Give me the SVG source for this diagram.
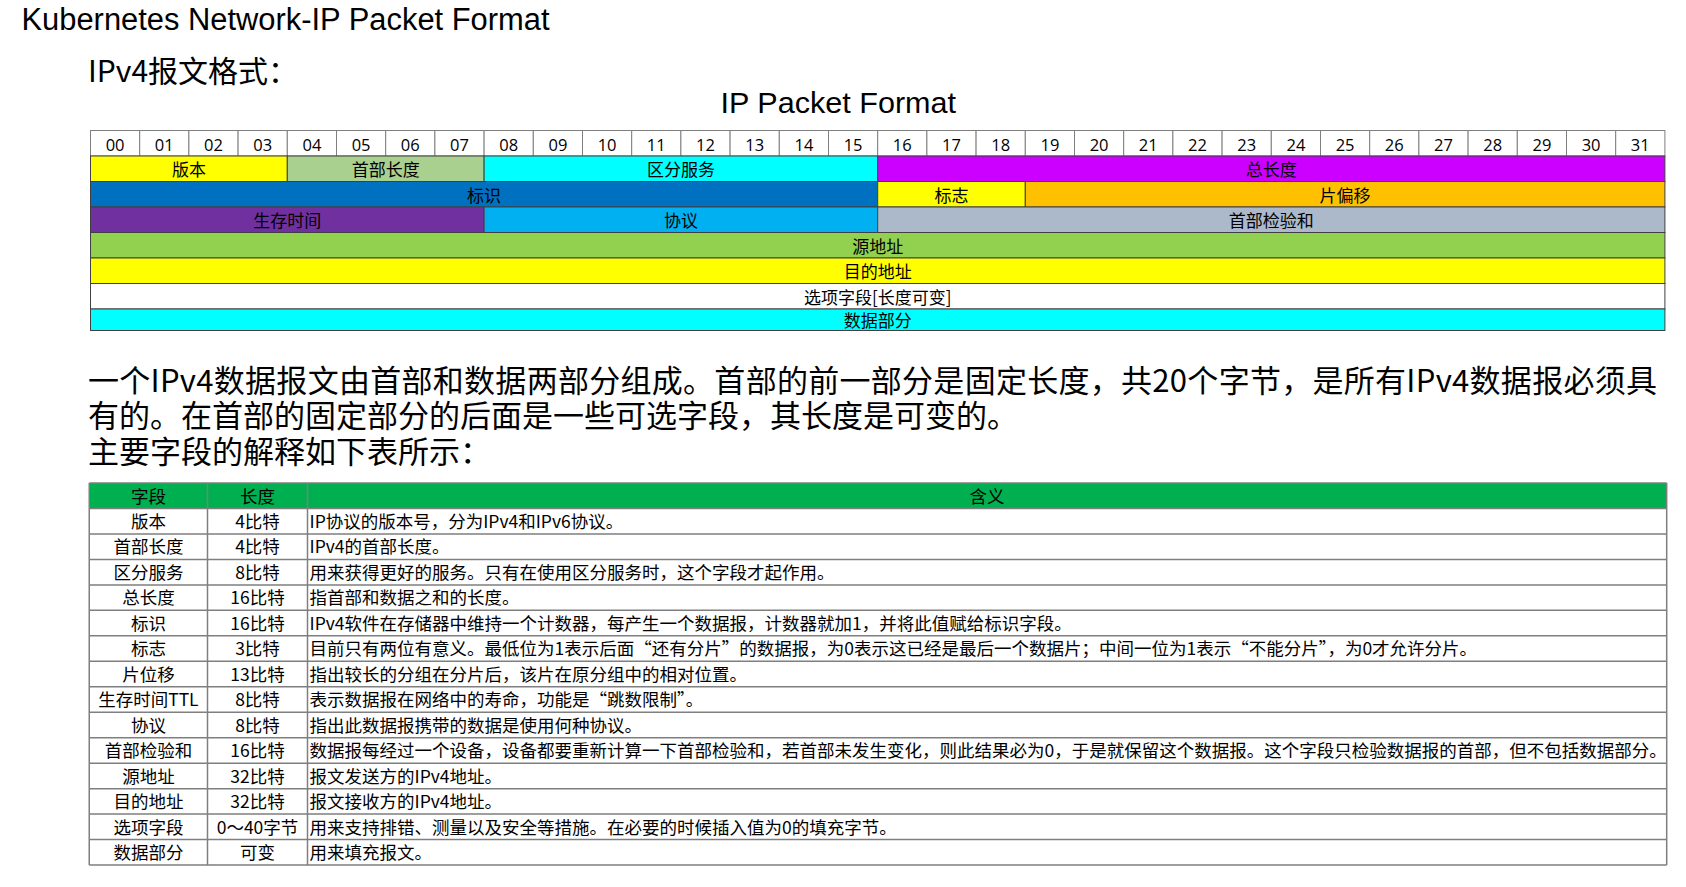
<svg xmlns="http://www.w3.org/2000/svg" width="1686" height="887" viewBox="0 0 1686 887">
<style>
.t{font-family:"Liberation Sans",Arial,sans-serif;fill:#000}
.c{font-family:"Noto Sans CJK SC","Noto Sans",sans-serif;fill:#000}
.d{font-family:"Open Sans","Noto Sans",sans-serif;font-size:16.5px;fill:#000;text-anchor:middle}
.f{font-family:"Noto Sans CJK SC",sans-serif;font-size:17px;fill:#000;text-anchor:middle}
.hc{fill:#fff;stroke:#7f7f7f;stroke-width:1}
.fc{stroke:#404040;stroke-width:1}
.tb{font-family:"Noto Sans CJK SC",sans-serif;font-size:17.5px;fill:#000}
.m{text-anchor:middle}
.gl{stroke:#7f7f7f;stroke-width:1.5;fill:none}
</style>
<rect width="1686" height="887" fill="#fff"/>
<g id="titles">
<text class="t" x="21.5" y="30" font-size="31" textLength="528" lengthAdjust="spacingAndGlyphs">Kubernetes Network-IP Packet Format</text>
<text class="c" x="88" y="82" font-size="30">IPv4报文格式：</text>
<text class="t" x="720.5" y="113" font-size="30" textLength="235.5" lengthAdjust="spacingAndGlyphs">IP Packet Format</text>
</g>
<g id="bit-header">
<rect class="hc" x="90.5" y="130.5" width="49.2" height="25.5"/><text class="d" x="115.1" y="150.5">00</text>
<rect class="hc" x="139.7" y="130.5" width="49.2" height="25.5"/><text class="d" x="164.3" y="150.5">01</text>
<rect class="hc" x="188.9" y="130.5" width="49.2" height="25.5"/><text class="d" x="213.5" y="150.5">02</text>
<rect class="hc" x="238.1" y="130.5" width="49.2" height="25.5"/><text class="d" x="262.7" y="150.5">03</text>
<rect class="hc" x="287.3" y="130.5" width="49.2" height="25.5"/><text class="d" x="311.9" y="150.5">04</text>
<rect class="hc" x="336.5" y="130.5" width="49.2" height="25.5"/><text class="d" x="361.1" y="150.5">05</text>
<rect class="hc" x="385.7" y="130.5" width="49.2" height="25.5"/><text class="d" x="410.3" y="150.5">06</text>
<rect class="hc" x="434.9" y="130.5" width="49.2" height="25.5"/><text class="d" x="459.5" y="150.5">07</text>
<rect class="hc" x="484.1" y="130.5" width="49.2" height="25.5"/><text class="d" x="508.7" y="150.5">08</text>
<rect class="hc" x="533.3" y="130.5" width="49.2" height="25.5"/><text class="d" x="557.9" y="150.5">09</text>
<rect class="hc" x="582.5" y="130.5" width="49.2" height="25.5"/><text class="d" x="607.1" y="150.5">10</text>
<rect class="hc" x="631.7" y="130.5" width="49.2" height="25.5"/><text class="d" x="656.3" y="150.5">11</text>
<rect class="hc" x="680.9" y="130.5" width="49.2" height="25.5"/><text class="d" x="705.5" y="150.5">12</text>
<rect class="hc" x="730.1" y="130.5" width="49.2" height="25.5"/><text class="d" x="754.7" y="150.5">13</text>
<rect class="hc" x="779.3" y="130.5" width="49.2" height="25.5"/><text class="d" x="803.9" y="150.5">14</text>
<rect class="hc" x="828.5" y="130.5" width="49.2" height="25.5"/><text class="d" x="853.1" y="150.5">15</text>
<rect class="hc" x="877.7" y="130.5" width="49.2" height="25.5"/><text class="d" x="902.3" y="150.5">16</text>
<rect class="hc" x="926.9" y="130.5" width="49.2" height="25.5"/><text class="d" x="951.5" y="150.5">17</text>
<rect class="hc" x="976.1" y="130.5" width="49.2" height="25.5"/><text class="d" x="1000.7" y="150.5">18</text>
<rect class="hc" x="1025.3" y="130.5" width="49.2" height="25.5"/><text class="d" x="1049.9" y="150.5">19</text>
<rect class="hc" x="1074.5" y="130.5" width="49.2" height="25.5"/><text class="d" x="1099.1" y="150.5">20</text>
<rect class="hc" x="1123.7" y="130.5" width="49.2" height="25.5"/><text class="d" x="1148.3" y="150.5">21</text>
<rect class="hc" x="1172.9" y="130.5" width="49.2" height="25.5"/><text class="d" x="1197.5" y="150.5">22</text>
<rect class="hc" x="1222.1" y="130.5" width="49.2" height="25.5"/><text class="d" x="1246.7" y="150.5">23</text>
<rect class="hc" x="1271.3" y="130.5" width="49.2" height="25.5"/><text class="d" x="1295.9" y="150.5">24</text>
<rect class="hc" x="1320.5" y="130.5" width="49.2" height="25.5"/><text class="d" x="1345.1" y="150.5">25</text>
<rect class="hc" x="1369.7" y="130.5" width="49.2" height="25.5"/><text class="d" x="1394.3" y="150.5">26</text>
<rect class="hc" x="1418.9" y="130.5" width="49.2" height="25.5"/><text class="d" x="1443.5" y="150.5">27</text>
<rect class="hc" x="1468.1" y="130.5" width="49.2" height="25.5"/><text class="d" x="1492.7" y="150.5">28</text>
<rect class="hc" x="1517.3" y="130.5" width="49.2" height="25.5"/><text class="d" x="1541.9" y="150.5">29</text>
<rect class="hc" x="1566.5" y="130.5" width="49.2" height="25.5"/><text class="d" x="1591.1" y="150.5">30</text>
<rect class="hc" x="1615.7" y="130.5" width="49.2" height="25.5"/><text class="d" x="1640.3" y="150.5">31</text>
</g>
<g id="field-version"><rect class="fc" x="90.5" y="156" width="196.8" height="25.5" fill="#FFFF00"/><text class="f" x="188.9" y="176">版本</text></g>
<g id="field-ihl"><rect class="fc" x="287.3" y="156" width="196.8" height="25.5" fill="#A9D08E"/><text class="f" x="385.7" y="176">首部长度</text></g>
<g id="field-ds"><rect class="fc" x="484.1" y="156" width="393.6" height="25.5" fill="#00FFFF"/><text class="f" x="680.9" y="176">区分服务</text></g>
<g id="field-total-length"><rect class="fc" x="877.7" y="156" width="787.2" height="25.5" fill="#CC00FF"/><text class="f" x="1271.3" y="176">总长度</text></g>
<g id="field-identification"><rect class="fc" x="90.5" y="181.5" width="787.2" height="25.5" fill="#0070C0"/><text class="f" x="484.1" y="201.5">标识</text></g>
<g id="field-flags"><rect class="fc" x="877.7" y="181.5" width="147.6" height="25.5" fill="#FFFF00"/><text class="f" x="951.5" y="201.5">标志</text></g>
<g id="field-fragment-offset"><rect class="fc" x="1025.3" y="181.5" width="639.6" height="25.5" fill="#FFC000"/><text class="f" x="1345.1" y="201.5">片偏移</text></g>
<g id="field-ttl"><rect class="fc" x="90.5" y="207" width="393.6" height="25.5" fill="#7030A0"/><text class="f" x="287.3" y="227">生存时间</text></g>
<g id="field-protocol"><rect class="fc" x="484.1" y="207" width="393.6" height="25.5" fill="#00B0F0"/><text class="f" x="680.9" y="227">协议</text></g>
<g id="field-checksum"><rect class="fc" x="877.7" y="207" width="787.2" height="25.5" fill="#ACB9CA"/><text class="f" x="1271.3" y="227">首部检验和</text></g>
<g id="field-source"><rect class="fc" x="90.5" y="232.5" width="1574.4" height="25.5" fill="#92D050"/><text class="f" x="877.7" y="252.5">源地址</text></g>
<g id="field-destination"><rect class="fc" x="90.5" y="258" width="1574.4" height="25.5" fill="#FFFF00"/><text class="f" x="877.7" y="278">目的地址</text></g>
<g id="field-options"><rect class="fc" x="90.5" y="283.5" width="1574.4" height="25.5" fill="#FFFFFF"/><text class="f" x="877.7" y="303.5">选项字段[长度可变]</text></g>
<g id="field-data"><rect class="fc" x="90.5" y="309" width="1574.4" height="21.5" fill="#00FFFF"/><text class="f" x="877.7" y="327">数据部分</text></g>
<g id="paragraph">
<text class="c" x="88" y="392" font-size="31" textLength="1569" lengthAdjust="spacing">一个IPv4数据报文由首部和数据两部分组成。首部的前一部分是固定长度，共20个字节，是所有IPv4数据报必须具</text>
<text class="c" x="88" y="427" font-size="31">有的。在首部的固定部分的后面是一些可选字段，其长度是可变的。</text>
<text class="c" x="88" y="463" font-size="31">主要字段的解释如下表所示：</text>
</g>
<g id="field-table">
<rect x="89.25" y="483" width="1577.45" height="25.47" fill="#00B050"/>
<path class="gl" d="M89.25 483H1666.7M89.25 508.47H1666.7M89.25 533.94H1666.7M89.25 559.41H1666.7M89.25 584.88H1666.7M89.25 610.35H1666.7M89.25 635.82H1666.7M89.25 661.29H1666.7M89.25 686.76H1666.7M89.25 712.23H1666.7M89.25 737.7H1666.7M89.25 763.17H1666.7M89.25 788.64H1666.7M89.25 814.11H1666.7M89.25 839.58H1666.7M89.25 865.05H1666.7M89.25 483V865.05M207.5 483V865.05M307.5 483V865.05M1666.7 483V865.05"/>
<g id="row-header"><text class="tb m" x="148.4" y="502.5">字段</text><text class="tb m" x="257.5" y="502.5">长度</text><text class="tb m" x="987.1" y="502.5">含义</text></g>
<g id="row-1"><text class="tb m" x="148.4" y="528">版本</text><text class="tb m" x="257.5" y="528">4比特</text><text class="tb" x="309.5" y="528">IP协议的版本号，分为IPv4和IPv6协议。</text></g>
<g id="row-2"><text class="tb m" x="148.4" y="553.4">首部长度</text><text class="tb m" x="257.5" y="553.4">4比特</text><text class="tb" x="309.5" y="553.4">IPv4的首部长度。</text></g>
<g id="row-3"><text class="tb m" x="148.4" y="578.9">区分服务</text><text class="tb m" x="257.5" y="578.9">8比特</text><text class="tb" x="309.5" y="578.9">用来获得更好的服务。只有在使用区分服务时，这个字段才起作用。</text></g>
<g id="row-4"><text class="tb m" x="148.4" y="604.4">总长度</text><text class="tb m" x="257.5" y="604.4">16比特</text><text class="tb" x="309.5" y="604.4">指首部和数据之和的长度。</text></g>
<g id="row-5"><text class="tb m" x="148.4" y="629.8">标识</text><text class="tb m" x="257.5" y="629.8">16比特</text><text class="tb" x="309.5" y="629.8">IPv4软件在存储器中维持一个计数器，每产生一个数据报，计数器就加1，并将此值赋给标识字段。</text></g>
<g id="row-6"><text class="tb m" x="148.4" y="655.3">标志</text><text class="tb m" x="257.5" y="655.3">3比特</text><text class="tb" x="309.5" y="655.3">目前只有两位有意义。最低位为1表示后面“还有分片”的数据报，为0表示这已经是最后一个数据片；中间一位为1表示“不能分片”，为0才允许分片。</text></g>
<g id="row-7"><text class="tb m" x="148.4" y="680.8">片位移</text><text class="tb m" x="257.5" y="680.8">13比特</text><text class="tb" x="309.5" y="680.8">指出较长的分组在分片后，该片在原分组中的相对位置。</text></g>
<g id="row-8"><text class="tb m" x="148.4" y="706.2">生存时间TTL</text><text class="tb m" x="257.5" y="706.2">8比特</text><text class="tb" x="309.5" y="706.2">表示数据报在网络中的寿命，功能是“跳数限制”。</text></g>
<g id="row-9"><text class="tb m" x="148.4" y="731.7">协议</text><text class="tb m" x="257.5" y="731.7">8比特</text><text class="tb" x="309.5" y="731.7">指出此数据报携带的数据是使用何种协议。</text></g>
<g id="row-10"><text class="tb m" x="148.4" y="757.2">首部检验和</text><text class="tb m" x="257.5" y="757.2">16比特</text><text class="tb" x="309.5" y="757.2">数据报每经过一个设备，设备都要重新计算一下首部检验和，若首部未发生变化，则此结果必为0，于是就保留这个数据报。这个字段只检验数据报的首部，但不包括数据部分。</text></g>
<g id="row-11"><text class="tb m" x="148.4" y="782.6">源地址</text><text class="tb m" x="257.5" y="782.6">32比特</text><text class="tb" x="309.5" y="782.6">报文发送方的IPv4地址。</text></g>
<g id="row-12"><text class="tb m" x="148.4" y="808.1">目的地址</text><text class="tb m" x="257.5" y="808.1">32比特</text><text class="tb" x="309.5" y="808.1">报文接收方的IPv4地址。</text></g>
<g id="row-13"><text class="tb m" x="148.4" y="833.6">选项字段</text><text class="tb m" x="257.5" y="833.6">0～40字节</text><text class="tb" x="309.5" y="833.6">用来支持排错、测量以及安全等措施。在必要的时候插入值为0的填充字节。</text></g>
<g id="row-14"><text class="tb m" x="148.4" y="859">数据部分</text><text class="tb m" x="257.5" y="859">可变</text><text class="tb" x="309.5" y="859">用来填充报文。</text></g>
</g>
<g id="connectors"/>
</svg>
